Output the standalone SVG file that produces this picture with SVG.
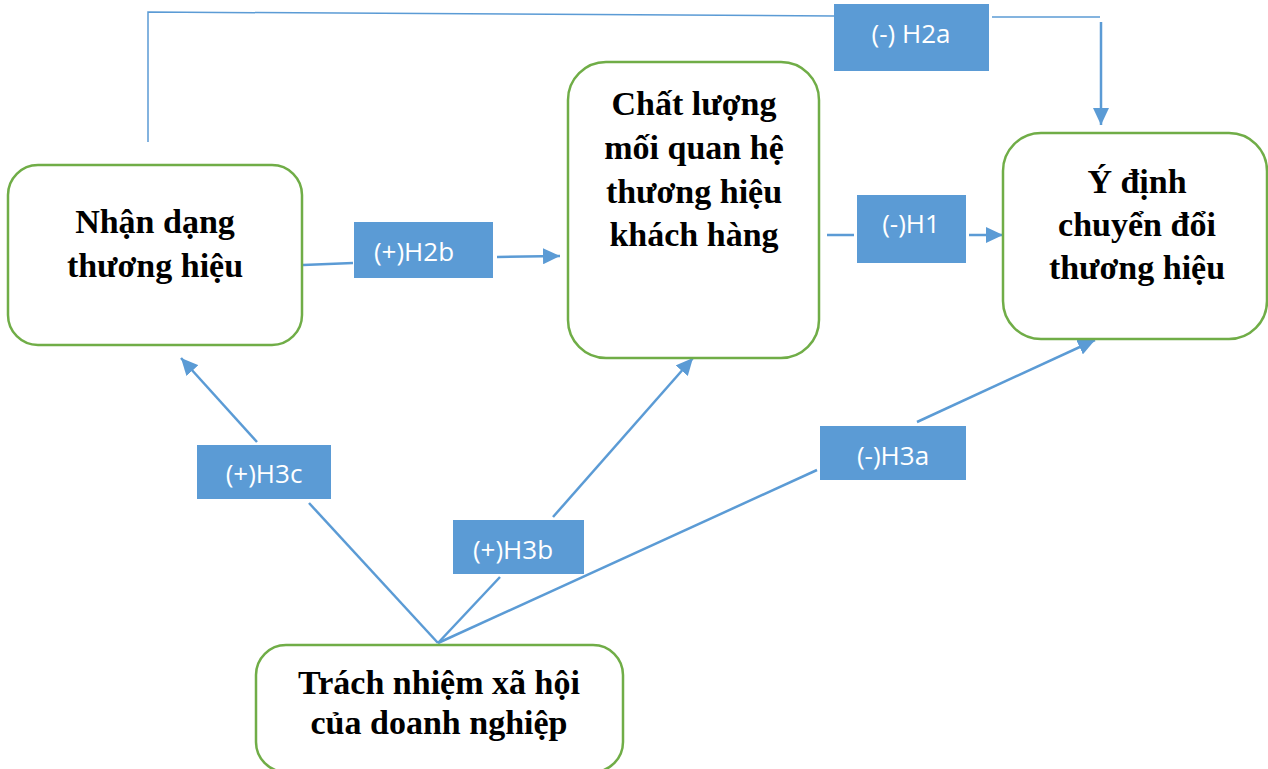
<svg xmlns="http://www.w3.org/2000/svg" width="1268" height="769" viewBox="0 0 1268 769">
  <defs>
    <marker id="arrow" markerUnits="userSpaceOnUse" markerWidth="18" markerHeight="16" refX="17" refY="8" orient="auto">
      <path d="M0,0 L17,8 L0,16 Z" fill="#5B9BD5"/>
    </marker>
    <style>
      .node rect { fill: #FFFFFF; stroke: #70AD47; stroke-width: 2.5; }
      .node text { font-family: "Liberation Serif", "Times New Roman", serif; font-weight: bold; font-size: 34px; fill: #000000; text-anchor: middle; }
      .label rect { fill: #5B9BD5; }
      .label text { font-family: "Open Sans", "Noto Sans", sans-serif; font-size: 26px; fill: #FFFFFF; text-anchor: middle; }
      .conn { fill: none; stroke: #5B9BD5; stroke-width: 2.5; }
      .thin { fill: none; stroke: #5B9BD5; stroke-width: 1.5; }
    </style>
  </defs>
  <rect width="1268" height="769" fill="#FFFFFF"/>

  <!-- connectors -->
  <g id="connectors">
    <!-- H2a: brand identity over the top to switching intention -->
    <polyline class="thin" points="148,142 148,12 834,16"/>
    <line class="thin" x1="992" y1="17" x2="1100" y2="17"/>
    <line class="conn" x1="1101" y1="22" x2="1101" y2="125" marker-end="url(#arrow)"/>
    <!-- H2b -->
    <line class="conn" x1="303" y1="265" x2="353" y2="263"/>
    <line class="conn" x1="497" y1="257" x2="560" y2="256" marker-end="url(#arrow)"/>
    <!-- H1 -->
    <line class="conn" x1="827" y1="235" x2="854" y2="235"/>
    <line class="conn" x1="969" y1="235" x2="1003" y2="235" marker-end="url(#arrow)"/>
    <!-- H3c -->
    <line class="conn" x1="438" y1="643" x2="309" y2="503"/>
    <line class="conn" x1="257" y1="442" x2="181" y2="358" marker-end="url(#arrow)"/>
    <!-- H3b -->
    <line class="conn" x1="438" y1="643" x2="500" y2="577"/>
    <line class="conn" x1="553" y1="517" x2="693" y2="358" marker-end="url(#arrow)"/>
    <!-- H3a -->
    <line class="conn" x1="438" y1="643" x2="817" y2="470"/>
    <line class="conn" x1="917" y1="422" x2="1095" y2="340" marker-end="url(#arrow)"/>
  </g>

  <!-- nodes -->
  <g id="node-nhan-dang" class="node">
    <rect x="8" y="165" width="294" height="180" rx="30" ry="30"/>
    <text x="155" y="233">Nhận dạng</text>
    <text x="155" y="277">thương hiệu</text>
  </g>
  <g id="node-chat-luong" class="node">
    <rect x="568" y="62" width="251" height="296" rx="38" ry="38"/>
    <text x="694" y="115">Chất lượng</text>
    <text x="694" y="159">mối quan hệ</text>
    <text x="694" y="203">thương hiệu</text>
    <text x="694" y="246">khách hàng</text>
  </g>
  <g id="node-y-dinh" class="node">
    <rect x="1003" y="133" width="264" height="206" rx="38" ry="38"/>
    <text x="1137" y="193">Ý định</text>
    <text x="1137" y="236">chuyển đổi</text>
    <text x="1137" y="279">thương hiệu</text>
  </g>
  <g id="node-trach-nhiem" class="node">
    <rect x="256" y="645" width="367" height="127" rx="30" ry="30"/>
    <text x="439" y="694">Trách nhiệm xã hội</text>
    <text x="439" y="734">của doanh nghiệp</text>
  </g>

  <!-- hypothesis labels -->
  <g id="label-h2a" class="label">
    <rect x="834" y="4" width="155" height="67"/>
    <text x="911" y="43">(-) H2a</text>
  </g>
  <g id="label-h2b" class="label">
    <rect x="354" y="222" width="139" height="56"/>
    <text x="414" y="261">(+)H2b</text>
  </g>
  <g id="label-h1" class="label">
    <rect x="857" y="195" width="109" height="68"/>
    <text x="911" y="233">(-)H1</text>
  </g>
  <g id="label-h3c" class="label">
    <rect x="197" y="445" width="134" height="54"/>
    <text x="264" y="483">(+)H3c</text>
  </g>
  <g id="label-h3b" class="label">
    <rect x="453" y="520" width="131" height="54"/>
    <text x="513" y="559">(+)H3b</text>
  </g>
  <g id="label-h3a" class="label">
    <rect x="820" y="426" width="146" height="54"/>
    <text x="893" y="465">(-)H3a</text>
  </g>
</svg>
